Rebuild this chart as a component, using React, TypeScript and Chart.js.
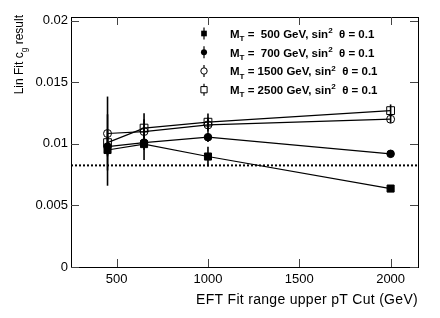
import React, { useEffect, useRef } from 'react';
import { Chart, registerables } from 'chart.js';

Chart.register(...registerables);

// ---------- data ----------
const CUTS = [450, 650, 1000, 2000];
const MASSES = [500, 700, 1500, 2500];
const SIN2_THETA = '0.1';
const CG_M500 = [0.0095, 0.00998, 0.00897, 0.00637];
const CG_M700 = [0.00978, 0.0101, 0.01054, 0.00919];
const CG_M1500 = [0.01084, 0.011, 0.01154, 0.012];
const CG_M2500 = [0.0101, 0.01128, 0.01176, 0.0127];
const ERR_M500 = [0.0029, 0.0013, 0.0008, 0.00025];
const ERR_M700 = [0.0008, 0.0006, 0.0004, 0.0003];
const ERR_M1500 = [0.003, 0.001, 0.0006, 0.0003];
const ERR_M2500 = [0.001, 0.0012, 0.0007, 0.0005];
const REF_LINE = 0.00825;
const X_RANGE = [250, 2150];
const Y_RANGE = [0, 0.0203];
const X_TICKS = [500, 1000, 1500, 2000];
const Y_TICKS = [0, 0.005, 0.01, 0.015, 0.02];
const Y_TICK_LABELS = ['0', '0.005', '0.01', '0.015', '0.02'];
const X_TITLE = 'EFT Fit range upper pT Cut (GeV)';

const FONT = '"Liberation Sans", Arial, Helvetica, sans-serif';

type Marker = { style: 'rect' | 'circle'; filled: boolean; radius: number };
const SERIES: { mass: number; values: number[]; errs: number[]; marker: Marker }[] = [
  { mass: MASSES[0], values: CG_M500, errs: ERR_M500, marker: { style: 'rect', filled: true, radius: 5 } },
  { mass: MASSES[1], values: CG_M700, errs: ERR_M700, marker: { style: 'circle', filled: true, radius: 3.8 } },
  { mass: MASSES[2], values: CG_M1500, errs: ERR_M1500, marker: { style: 'circle', filled: false, radius: 4 } },
  { mass: MASSES[3], values: CG_M2500, errs: ERR_M2500, marker: { style: 'rect', filled: false, radius: 5.5 } },
];

type Part = { t: string; sub?: boolean; sup?: boolean };

function drawRich(ctx: CanvasRenderingContext2D, x: number, y: number, parts: Part[], size: number, weight: string, measureOnly = false): number {
  let cx = x;
  for (const p of parts) {
    const s = p.sub || p.sup ? size * 0.7 : size;
    ctx.font = `${weight} ${s}px ${FONT}`;
    const dy = p.sub ? size * 0.3 : p.sup ? -size * 0.4 : 0;
    if (!measureOnly) ctx.fillText(p.t, cx, y + dy);
    cx += ctx.measureText(p.t).width;
  }
  return cx - x;
}

function drawMarker(ctx: CanvasRenderingContext2D, x: number, y: number, m: Marker, r: number) {
  ctx.beginPath();
  if (m.style === 'rect') {
    const s = r * Math.SQRT1_2;
    ctx.rect(x - s, y - s, 2 * s, 2 * s);
  } else {
    ctx.arc(x, y, r, 0, Math.PI * 2);
  }
  if (m.filled) {
    ctx.fillStyle = '#000';
    ctx.fill();
  } else {
    ctx.fillStyle = '#fff';
    ctx.fill();
    ctx.strokeStyle = '#000';
    ctx.lineWidth = 1;
    ctx.stroke();
  }
}

const rootStyle = {
  id: 'rootStyle',
  beforeDatasetsDraw(chart: any) {
    const { ctx, chartArea: a, scales } = chart;
    const xs = scales.x, ys = scales.y;
    ctx.save();
    // reference dotted line
    ctx.strokeStyle = '#000';
    ctx.lineWidth = 2;
    ctx.setLineDash([2, 2]);
    const yr = ys.getPixelForValue(REF_LINE);
    ctx.beginPath();
    ctx.moveTo(a.left, yr);
    ctx.lineTo(a.right, yr);
    ctx.stroke();
    ctx.setLineDash([]);
    // error bars
    ctx.lineWidth = 1.6;
    SERIES.forEach((s) => {
      s.values.forEach((v, i) => {
        const px = xs.getPixelForValue(CUTS[i]);
        ctx.beginPath();
        ctx.moveTo(px, ys.getPixelForValue(v - s.errs[i]));
        ctx.lineTo(px, ys.getPixelForValue(v + s.errs[i]));
        ctx.stroke();
      });
    });
    ctx.restore();
  },
  afterDraw(chart: any) {
    const { ctx, chartArea: a, scales } = chart;
    const xs = scales.x, ys = scales.y;
    ctx.save();
    // frame
    ctx.strokeStyle = '#000';
    ctx.lineWidth = 1;
    ctx.strokeRect(Math.round(a.left) + 0.5, Math.round(a.top) + 0.5, Math.round(a.right - a.left), Math.round(a.bottom - a.top));
    // inner ticks
    ctx.strokeStyle = '#444';
    const tl = 8;
    ctx.beginPath();
    X_TICKS.forEach((t) => {
      const px = Math.round(xs.getPixelForValue(t)) + 0.5;
      ctx.moveTo(px, a.bottom);
      ctx.lineTo(px, a.bottom - tl);
      ctx.moveTo(px, a.top);
      ctx.lineTo(px, a.top + tl);
    });
    Y_TICKS.forEach((t) => {
      const py = Math.round(ys.getPixelForValue(t)) + 0.5;
      ctx.moveTo(a.left, py);
      ctx.lineTo(a.left + tl, py);
      ctx.moveTo(a.right, py);
      ctx.lineTo(a.right - tl, py);
    });
    ctx.stroke();

    ctx.fillStyle = '#000';
    ctx.textBaseline = 'alphabetic';
    ctx.textAlign = 'left';
    // x title (right aligned)
    ctx.font = `14px ${FONT}`;
    (ctx as any).letterSpacing = '0.3px';
    const xw = ctx.measureText(X_TITLE).width;
    ctx.fillText(X_TITLE, a.right - xw, 304);
    (ctx as any).letterSpacing = '0px';

    // y title, rotated, aligned to top
    const yParts: Part[] = [{ t: 'Lin Fit c' }, { t: 'g', sub: true }, { t: ' result' }];
    const yw = drawRich(ctx, 0, 0, yParts, 12, 'normal', true);
    ctx.save();
    ctx.translate(23, a.top - 2);
    ctx.rotate(-Math.PI / 2);
    drawRich(ctx, -yw, 0, yParts, 12, 'normal');
    ctx.restore();

    // legend
    const rowY = [33.5, 52.3, 71, 89.7];
    SERIES.forEach((s, i) => {
      const my = rowY[i];
      const mx = 204;
      ctx.strokeStyle = '#000';
      ctx.lineWidth = 1.2;
      ctx.beginPath();
      ctx.moveTo(mx, my - 6);
      ctx.lineTo(mx, my + 6);
      ctx.stroke();
      drawMarker(ctx, mx, my, s.marker, s.marker.radius * 0.8);
      ctx.fillStyle = '#000';
      const massTxt = s.mass < 1000 ? ' =  ' + s.mass : ' = ' + s.mass;
      drawRich(ctx, 230, my + 4.2, [
        { t: 'M' }, { t: 'T', sub: true }, { t: massTxt + ' GeV, sin' }, { t: '2', sup: true }, { t: '  \u03b8 = ' + SIN2_THETA },
      ], 11.5, 'bold');
    });
    ctx.restore();
  },
};

export default function App() {
  const ref = useRef<HTMLCanvasElement>(null);
  useEffect(() => {
    if (!ref.current) return;
    const datasets = SERIES.map((s) => ({
      label: `M_T = ${s.mass} GeV`,
      data: s.values.map((v, i) => ({ x: CUTS[i], y: v })),
      borderColor: '#000',
      borderWidth: 1.2,
      backgroundColor: s.marker.filled ? '#000' : 'rgba(255,255,255,0)',
      pointStyle: s.marker.style,
      pointRadius: s.marker.radius,
      pointBorderWidth: 1,
      pointBorderColor: '#000',
      pointBackgroundColor: s.marker.filled ? '#000' : 'rgba(255,255,255,0)',
      tension: 0,
      fill: false,
    }));
    const chart = new Chart(ref.current, {
      type: 'line',
      data: { datasets },
      plugins: [rootStyle],
      options: {
        responsive: false,
        animation: false,
        events: [],
        layout: { padding: { left: 0, top: 17, right: 22, bottom: 0 } },
        plugins: { legend: { display: false }, tooltip: { enabled: false } },
        scales: {
          x: {
            type: 'linear',
            min: X_RANGE[0],
            max: X_RANGE[1],
            grid: { display: false, drawTicks: false },
            border: { display: false },
            afterBuildTicks: (sc: any) => { sc.ticks = X_TICKS.map((v) => ({ value: v })); },
            afterFit: (sc: any) => { sc.height = 51; },
            ticks: {
              color: '#000',
              padding: 5,
              maxRotation: 0,
              font: { family: FONT, size: 13 },
              callback: (v: any) => String(v),
            },
          },
          y: {
            type: 'linear',
            min: Y_RANGE[0],
            max: Y_RANGE[1],
            grid: { display: false, drawTicks: false },
            border: { display: false },
            afterBuildTicks: (sc: any) => { sc.ticks = Y_TICKS.map((v) => ({ value: v })); },
            afterFit: (sc: any) => { sc.width = 71; },
            ticks: {
              color: '#000',
              padding: 3,
              font: { family: FONT, size: 13 },
              callback: (_v: any, i: number) => Y_TICK_LABELS[i],
            },
          },
        },
      },
    } as any);
    return () => chart.destroy();
  }, []);
  return (
    <div style={{ position: 'absolute', left: 0, top: 0, width: 440, height: 318, background: '#fff' }}>
      <canvas ref={ref} width={440} height={318} />
    </div>
  );
}
